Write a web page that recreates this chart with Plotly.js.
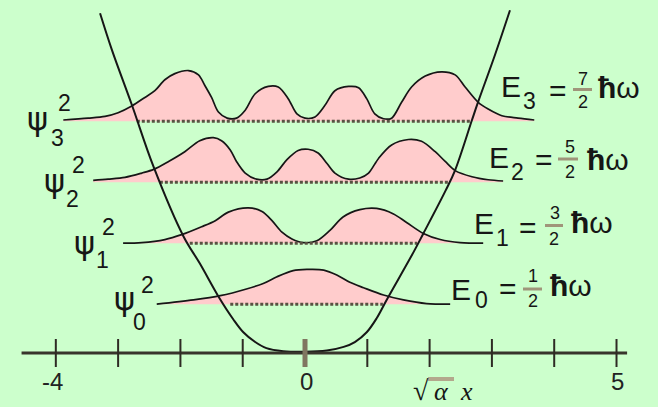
<!DOCTYPE html>
<html>
<head>
<meta charset="utf-8">
<script src="https://cdn.plot.ly/plotly-3.0.1.min.js"></script>
<style>
  html, body { margin: 0; padding: 0; background: #ccffcc; }
  #chart { width: 658px; height: 407px; }
</style>
</head>
<body>
<div id="chart"></div>
<script>
// Quantum harmonic oscillator: potential well, energy levels and |psi_n|^2
// x in units of sqrt(alpha)*x, energies in units of hbar*omega

const levels = [0.8, 1.8, 2.8, 3.8];
const levelNames = ['0', '1', '2', '3'];
const fracNum = ['1', '3', '5', '7'];
const fracDen = ['2', '2', '2', '2'];

// classical turning points (where each level meets the well)
const turnLeft = [-1.20, -1.85, -2.33, -2.70];
const turnRight = [1.25, 1.80, 2.30, 2.65];

// probability densities, height above their own level
const psi0X = [-2.38, -1.79, -1.36, -0.94, -0.67, -0.45, -0.19, 0.03, 0.30, 0.51, 0.72, 0.94, 1.26, 1.58, 1.95, 2.33];
const psi0D = [0.00, 0.07, 0.14, 0.25, 0.34, 0.45, 0.55, 0.57, 0.56, 0.48, 0.36, 0.27, 0.15, 0.07, 0.01, 0.00];

const psi1X = [-2.92, -2.62, -2.25, -1.98, -1.66, -1.44, -1.23, -0.91, -0.69, -0.53, -0.37, -0.21, -0.03, 0.19, 0.40, 0.61, 0.88, 1.15, 1.42, 1.63, 1.90, 2.17, 2.49, 2.86];
const psi1D = [0.00, 0.01, 0.06, 0.14, 0.27, 0.37, 0.51, 0.58, 0.52, 0.37, 0.18, 0.07, 0.01, 0.04, 0.21, 0.43, 0.55, 0.57, 0.48, 0.34, 0.16, 0.06, 0.01, 0.00];

const psi2X = [-3.40, -3.16, -2.89, -2.62, -2.43, -2.19, -1.93, -1.69, -1.47, -1.34, -1.20, -1.10, -0.96, -0.78, -0.61, -0.45, -0.29, -0.11, 0.05, 0.21, 0.35, 0.48, 0.70, 0.88, 1.02, 1.18, 1.39, 1.66, 1.87, 2.09, 2.25, 2.41, 2.68, 2.94, 3.18];
const psi2D = [0.03, 0.05, 0.08, 0.15, 0.21, 0.34, 0.50, 0.68, 0.73, 0.68, 0.53, 0.34, 0.15, 0.05, 0.05, 0.17, 0.37, 0.52, 0.54, 0.48, 0.31, 0.15, 0.05, 0.07, 0.15, 0.39, 0.61, 0.70, 0.67, 0.50, 0.34, 0.19, 0.09, 0.04, 0.02];

const psi3X = [-3.88, -3.48, -3.21, -3.00, -2.78, -2.57, -2.41, -2.25, -2.09, -1.87, -1.71, -1.61, -1.50, -1.39, -1.25, -1.10, -0.96, -0.80, -0.59, -0.43, -0.27, -0.13, 0.00, 0.16, 0.32, 0.48, 0.70, 0.86, 0.99, 1.12, 1.26, 1.39, 1.55, 1.71, 1.93, 2.19, 2.41, 2.57, 2.78, 2.94, 3.16, 3.42, 3.68];
const psi3D = [0.02, 0.05, 0.08, 0.14, 0.25, 0.39, 0.50, 0.68, 0.78, 0.83, 0.76, 0.59, 0.39, 0.15, 0.05, 0.05, 0.18, 0.45, 0.57, 0.56, 0.37, 0.12, 0.05, 0.07, 0.26, 0.50, 0.57, 0.55, 0.37, 0.12, 0.04, 0.05, 0.31, 0.56, 0.74, 0.81, 0.76, 0.56, 0.31, 0.20, 0.09, 0.05, 0.02];

// potential well
const wellX = [-3.29, -3.10, -2.78, -2.43, -1.95, -1.69, -1.38, -1.15, -0.99, -0.80, -0.62, -0.35, 0.00, 0.35, 0.62, 0.80, 0.99, 1.15, 1.31, 1.74, 1.90, 2.26, 2.41, 2.68, 2.78, 3.05, 3.29];
const wellV = [5.57, 4.97, 4.07, 3.05, 1.91, 1.47, 0.91, 0.55, 0.34, 0.18, 0.08, 0.03, 0.02, 0.04, 0.10, 0.18, 0.34, 0.57, 0.87, 1.65, 1.96, 2.67, 3.00, 3.82, 4.12, 4.89, 5.62];

// horizontal axis
const axisExtent = [-4.55, 5.17];
const tickVals = [-4, -3, -2, -1, 0, 1, 2, 3, 4, 5];
const tickLabelVals = [-4, 0, 5];
const tickLabelText = ['-4', '0', '5'];

const densX = [psi0X, psi1X, psi2X, psi3X];
const densD = [psi0D, psi1D, psi2D, psi3D];

const INK = '#161616';
const PINK = '#ffcccc';
const BG = '#ccffcc';
const W = 658, H = 407;

const traces = [];

// filled densities sitting on their levels
levels.forEach((E, i) => {
  const xs = densX[i];
  traces.push({
    x: [xs[0], xs[xs.length - 1]], y: [E, E],
    mode: 'lines', line: { width: 0, color: PINK }, hoverinfo: 'skip'
  });
  traces.push({
    x: xs, y: densD[i].map(d => E + d),
    mode: 'lines', fill: 'tonexty', fillcolor: PINK,
    line: { color: INK, width: 1.7, shape: 'spline', smoothing: 0.9 },
    hoverinfo: 'skip'
  });
});

// dotted level lines between turning points
levels.forEach((E, i) => {
  traces.push({
    x: [turnLeft[i], turnRight[i]], y: [E, E],
    mode: 'lines', line: { color: '#585242', width: 3, dash: '3px,2px' },
    hoverinfo: 'skip'
  });
});

// potential well
traces.push({
  x: wellX, y: wellV, mode: 'lines',
  line: { color: INK, width: 2, shape: 'spline', smoothing: 1 },
  hoverinfo: 'skip'
});

// axis line and tick marks
traces.push({
  x: axisExtent, y: [0, 0], mode: 'lines',
  line: { color: '#38352c', width: 3 }, hoverinfo: 'skip'
});
traces.push({
  x: tickVals, y: tickVals.map(() => 0), mode: 'markers',
  marker: {
    symbol: 'line-ns', size: 20,
    line: {
      width: tickVals.map(v => v === 0 ? 5 : 2),
      color: tickVals.map(v => v === 0 ? '#807660' : '#2e2b24')
    }
  },
  hoverinfo: 'skip'
});

// text helpers
function at(px, py) {
  return { xref: 'paper', yref: 'paper', x: px / W, y: 1 - py / H };
}
function label(text, px, py, size, extra) {
  return Object.assign(at(px, py), {
    text: text, showarrow: false, xanchor: 'center', yanchor: 'middle',
    font: Object.assign({ family: 'Liberation Sans, Arial, sans-serif', size: size, color: INK }, (extra && extra.font) || {})
  }, extra && extra.opts ? extra.opts : {});
}

const annotations = [];
const shapes = [];

// psi_n^2 labels on the left
const psiPos = [
  { psi: [124, 299], sup: [147.5, 285], sub: [139, 322] },
  { psi: [84, 243], sup: [108.5, 226.5], sub: [102, 260] },
  { psi: [54, 181], sup: [78.5, 165], sub: [72, 199] },
  { psi: [37, 119], sup: [64.5, 103.5], sub: [57, 137.5] }
];
levels.forEach((E, i) => {
  const p = psiPos[i];
  annotations.push(label('ψ', p.psi[0], p.psi[1], 32, { font: { family: 'DejaVu Sans, sans-serif' } }));
  annotations.push(label('2', p.sup[0], p.sup[1], 23));
  annotations.push(label(levelNames[i], p.sub[0], p.sub[1], 23));
});

// E_n = (n+1/2) hbar omega labels on the right
const ePos = [
  { E: [461, 289], sub: [481, 300], eq: [507.5, 288], num: [532.5, 275.5], bar: [523, 542, 289], den: [533, 300.5], hw: [571, 285.5] },
  { E: [484, 223.5], sub: [502, 237.5], eq: [528, 227.5], num: [555, 212.5], bar: [545, 563, 225.5], den: [554, 238.5], hw: [591.5, 222.5] },
  { E: [499, 157.5], sub: [517.5, 171.5], eq: [544, 160], num: [569.5, 146.5], bar: [558, 578, 159], den: [570, 171.5], hw: [607.5, 160] },
  { E: [511, 86.5], sub: [529, 101], eq: [557.5, 90.5], num: [582.5, 79], bar: [573, 592, 89.5], den: [582.5, 101.5], hw: [618.5, 87.5] }
];
levels.forEach((E, i) => {
  const p = ePos[i];
  annotations.push(label('E', p.E[0], p.E[1], 30));
  annotations.push(label(levelNames[i], p.sub[0], p.sub[1], 23));
  annotations.push(label('=', p.eq[0], p.eq[1], 30));
  annotations.push(label(fracNum[i], p.num[0], p.num[1], 18));
  annotations.push(label(fracDen[i], p.den[0], p.den[1], 18));
  annotations.push(label('<b>ħ</b>ω', p.hw[0], p.hw[1], 30));
  shapes.push({
    type: 'line', xref: 'paper', yref: 'paper',
    x0: p.bar[0] / W, x1: p.bar[1] / W, y0: 1 - p.bar[2] / H, y1: 1 - p.bar[2] / H,
    line: { color: '#a0957a', width: 3 }
  });
});

// tick labels
tickLabelVals.forEach((v, i) => {
  annotations.push({
    x: v, y: -0.46, xref: 'x', yref: 'y', text: tickLabelText[i], showarrow: false,
    xanchor: 'center', yanchor: 'middle', xshift: v < 0 ? -3 : 1,
    font: { family: 'Liberation Sans, Arial, sans-serif', size: 24, color: '#222' }
  });
});

// axis variable: sqrt(alpha) x
annotations.push(label('√', 421, 390, 28, { font: { family: 'Liberation Serif, serif' } }));
annotations.push(label('<i>α</i>', 441, 391, 26, { font: { family: 'Liberation Serif, serif' } }));
annotations.push(label('<i>x</i>', 466, 391, 26, { font: { family: 'Liberation Serif, serif' } }));
shapes.push({
  type: 'line', xref: 'paper', yref: 'paper',
  x0: 428 / W, x1: 454 / W, y0: 1 - 379 / H, y1: 1 - 379 / H,
  line: { color: '#b3a88c', width: 4 }
});

const layout = {
  width: W, height: H,
  margin: { l: 0, r: 0, t: 0, b: 0 },
  paper_bgcolor: BG, plot_bgcolor: BG,
  showlegend: false, hovermode: false,
  xaxis: { range: [-4.896, 5.666], visible: false, fixedrange: true },
  yaxis: { range: [-0.885, 5.787], visible: false, fixedrange: true },
  annotations: annotations,
  shapes: shapes
};

Plotly.newPlot('chart', traces, layout, { staticPlot: true, displayModeBar: false });
</script>
</body>
</html>
